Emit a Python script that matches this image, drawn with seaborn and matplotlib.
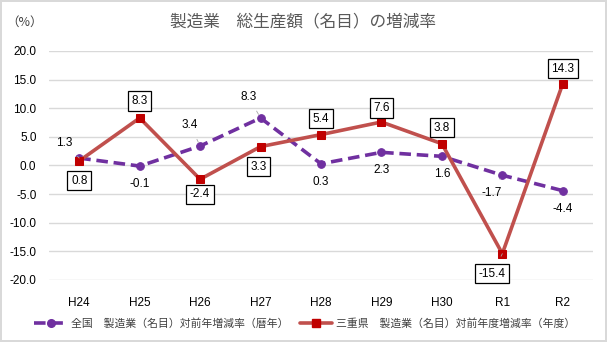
import matplotlib
matplotlib.use("Agg")
import matplotlib.pyplot as plt
import seaborn as sns
import pandas as pd
from matplotlib.lines import Line2D
from matplotlib import font_manager

categories = ["H24", "H25", "H26", "H27", "H28", "H29", "H30", "R1", "R2"]
national = [1.3, -0.1, 3.4, 8.3, 0.3, 2.3, 1.6, -1.7, -4.4]
mie = [0.8, 8.3, -2.4, 3.3, 5.4, 7.6, 3.8, -15.4, 14.3]
national_name = "全国　製造業（名目）対前年増減率（暦年）"
mie_name = "三重県　製造業（名目）対前年度増減率（年度）"
title = "製造業　総生産額（名目）の増減率"
unit_label = "（%）"
yticks = [-20, -15, -10, -5, 0, 5, 10, 15, 20]

sns.set_theme(style="white")
names = {f.name for f in font_manager.fontManager.ttflist}
num_font = "Liberation Sans Narrow" if "Liberation Sans Narrow" in names else "Liberation Sans"
JP = ["Noto Sans CJK JP", "DejaVu Sans"]
NUM = [num_font, "DejaVu Sans"]
plt.rcParams["font.family"] = JP

PURPLE = "#7030A0"
RED_LINE = "#C0504D"
RED_MK = "#C00000"

fig = plt.figure(figsize=(6.07, 3.42), dpi=100)
fig.patch.set_facecolor("white")
fig.patch.set_edgecolor("#D9D9D9")
fig.patch.set_linewidth(1.5)
ax = fig.add_axes([49 / 607, 1 - 280 / 342, 544 / 607, 229 / 342])

df = pd.DataFrame({"cat": categories, "national": national, "mie": mie})
sns.lineplot(data=df, x="cat", y="national", ax=ax, sort=False, color=PURPLE,
             linewidth=2.6, linestyle=(0, (3.2, 1.6)), marker="o", markersize=5.5,
             markeredgecolor=PURPLE, markerfacecolor=PURPLE, zorder=3)
sns.lineplot(data=df, x="cat", y="mie", ax=ax, sort=False, color=RED_LINE,
             linewidth=2.6, marker="s", markersize=5.5,
             markeredgecolor=RED_MK, markerfacecolor=RED_MK, zorder=4)

ax.set_xlim(-0.5, len(categories) - 0.5)
ax.set_ylim(-20, 20)
ax.set_yticks(yticks)
ax.set_yticklabels([f"{v:.1f}" for v in yticks], fontfamily=NUM, fontsize=8.5, color="#000000")
ax.set_xticks(range(len(categories)))
ax.set_xticklabels(categories, fontfamily=NUM, fontsize=8.5, color="#000000")
ax.tick_params(axis="both", length=0)
ax.tick_params(axis="x", pad=12)
ax.tick_params(axis="y", pad=9)
ax.set_xlabel("")
ax.set_ylabel("")
ax.grid(axis="y", color="#D9D9D9", linewidth=1)
for s in ax.spines.values():
    s.set_visible(False)

# label offsets in pixels (dx, dy), dy positive = up
nat_off = [(-15, 15), (0, -18), (-10, 21), (-12, 21), (0, -18), (0, -18), (0, -18), (-11, -18), (0, -18)]
nat_leader = [True, False, True, True, False, False, False, True, False]
mie_off = [(0, -20), (0, 17), (0, -15), (-2, -20), (0, 16), (0, 14), (0, 16), (-10, -20), (0, 15)]
mie_leader = [False, False, False, False, False, False, False, True, False]

for i, v in enumerate(national):
    ap = dict(arrowstyle="-", color="#A6A6A6", lw=0.6, shrinkA=4, shrinkB=3) if nat_leader[i] else None
    ax.annotate(f"{v:.1f}", (i, v), xytext=nat_off[i], textcoords="offset pixels",
                ha="center", va="center", fontsize=8.5, fontfamily=NUM, color="#000000",
                arrowprops=ap, zorder=5)
for i, v in enumerate(mie):
    ap = dict(arrowstyle="-", color="#A6A6A6", lw=0.6, shrinkA=6, shrinkB=3) if mie_leader[i] else None
    ax.annotate(f"{v:.1f}", (i, v), xytext=mie_off[i], textcoords="offset pixels",
                ha="center", va="center", fontsize=8.5, fontfamily=NUM, color="#000000",
                bbox=dict(boxstyle="square,pad=0.3", fc="white", ec="black", lw=0.9),
                arrowprops=ap, zorder=6)

fig.text(303 / 607, 1 - 22 / 342, title, ha="center", va="center", fontsize=12, color="#595959")
fig.text(6 / 607, 1 - 22 / 342, unit_label, ha="left", va="center", fontsize=9, color="#404040")

handles = [
    Line2D([0], [0], color=PURPLE, lw=2.6, linestyle=(0, (3.2, 1.6)), marker="o", markersize=5.5,
           markerfacecolor=PURPLE, markeredgecolor=PURPLE),
    Line2D([0], [0], color=RED_LINE, lw=2.6, marker="s", markersize=5.5,
           markerfacecolor=RED_MK, markeredgecolor=RED_MK),
]
fig.legend(handles, [national_name, mie_name], loc="center", bbox_to_anchor=(305 / 607, 1 - 323 / 342),
           ncol=2, frameon=False, fontsize=7.8, handlelength=3.0, columnspacing=1.0,
           handletextpad=0.4, labelcolor="#404040")

fig.savefig("out.png", dpi=100, facecolor=fig.get_facecolor(), edgecolor=fig.get_edgecolor())
